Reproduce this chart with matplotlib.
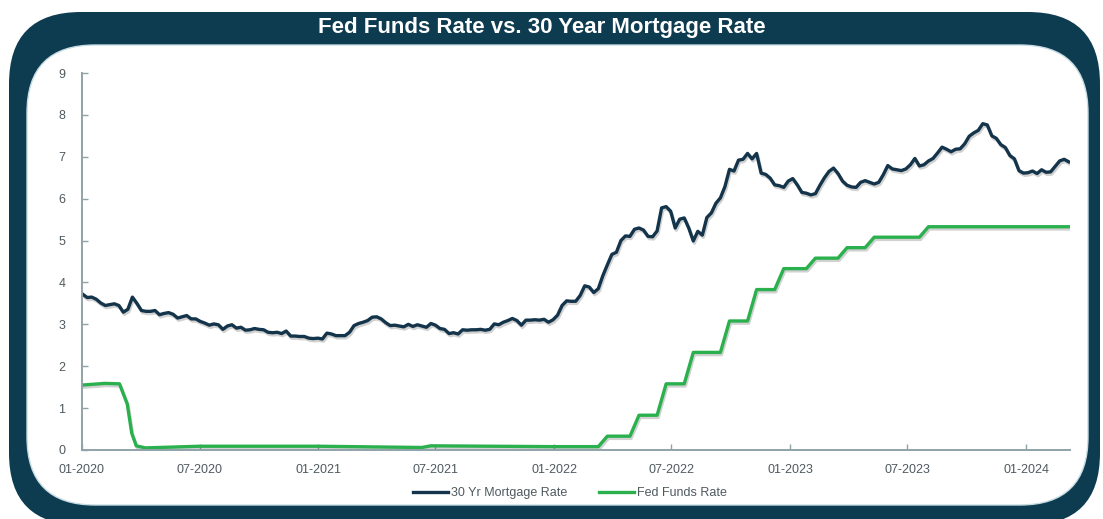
import matplotlib
matplotlib.use("Agg")
import matplotlib.pyplot as plt
import matplotlib.dates as mdates
import matplotlib.patheffects as pe
from matplotlib.patches import FancyBboxPatch
from matplotlib.transforms import IdentityTransform
import pandas as pd

# 30 year fixed mortgage rate, weekly (Thursdays) from 2020-01-02
mortgage_2020 = [3.72, 3.64, 3.65, 3.60, 3.51, 3.45, 3.47, 3.49, 3.45, 3.29, 3.36, 3.65, 3.50,
                 3.33, 3.31, 3.31, 3.33, 3.23, 3.26, 3.28, 3.24, 3.15, 3.18, 3.21, 3.13, 3.13,
                 3.07, 3.03, 2.98, 3.01, 2.99, 2.88, 2.96, 2.99, 2.91, 2.93, 2.86, 2.87, 2.90,
                 2.88, 2.87, 2.81, 2.80, 2.81, 2.78, 2.84, 2.72, 2.72, 2.71, 2.71, 2.67, 2.66, 2.67]
mortgage_2021 = [2.65, 2.79, 2.77, 2.73, 2.73, 2.73, 2.81, 2.97, 3.02, 3.05, 3.09, 3.17, 3.18,
                 3.13, 3.04, 2.97, 2.98, 2.96, 2.94, 3.00, 2.95, 2.99, 2.96, 2.93, 3.02, 2.98,
                 2.90, 2.88, 2.78, 2.80, 2.77, 2.87, 2.86, 2.87, 2.87, 2.88, 2.86, 2.88, 3.01,
                 2.99, 3.05, 3.09, 3.14, 3.09, 2.98, 3.10, 3.10, 3.11, 3.10, 3.12, 3.05, 3.11]
mortgage_2022 = [3.22, 3.45, 3.56, 3.55, 3.55, 3.69, 3.92, 3.89, 3.76, 3.85, 4.16, 4.42, 4.67,
                 4.72, 5.00, 5.11, 5.10, 5.27, 5.30, 5.25, 5.10, 5.09, 5.23, 5.78, 5.81, 5.70,
                 5.30, 5.51, 5.54, 5.30, 4.99, 5.22, 5.13, 5.55, 5.66, 5.89, 6.02, 6.29, 6.70,
                 6.66, 6.92, 6.94, 7.08, 6.95, 7.08, 6.61, 6.58, 6.49, 6.33, 6.31, 6.27, 6.42]
mortgage_2023 = [6.48, 6.33, 6.15, 6.13, 6.09, 6.12, 6.32, 6.50, 6.65, 6.73, 6.60, 6.42, 6.32,
                 6.28, 6.27, 6.39, 6.43, 6.39, 6.35, 6.39, 6.57, 6.79, 6.71, 6.69, 6.67, 6.71,
                 6.81, 6.96, 6.78, 6.81, 6.90, 6.96, 7.09, 7.23, 7.18, 7.12, 7.18, 7.19, 7.31,
                 7.49, 7.57, 7.63, 7.79, 7.76, 7.50, 7.44, 7.29, 7.22, 7.03, 6.95, 6.67, 6.61]
mortgage_2024 = [6.62, 6.66, 6.60, 6.69, 6.63, 6.64, 6.77, 6.90, 6.94, 6.88]

mortgage = mortgage_2020 + mortgage_2021 + mortgage_2022 + mortgage_2023 + mortgage_2024
mortgage_dates = pd.date_range("2020-01-02", periods=len(mortgage), freq="7D")

# effective fed funds rate, breakpoints of the step line
fed_dates = pd.to_datetime([
    "2020-01-01", "2020-02-05", "2020-02-28", "2020-03-11", "2020-03-18", "2020-03-25",
    "2020-04-08", "2020-07-01", "2020-12-31", "2021-06-10", "2021-06-24", "2021-12-31",
    "2022-03-10", "2022-03-24", "2022-04-28", "2022-05-12", "2022-06-09", "2022-06-23",
    "2022-07-21", "2022-08-04", "2022-09-15", "2022-09-29", "2022-10-27", "2022-11-10",
    "2022-12-08", "2022-12-22", "2023-01-26", "2023-02-09", "2023-03-16", "2023-03-30",
    "2023-04-27", "2023-05-11", "2023-07-20", "2023-08-03", "2024-03-07",
])
fed_funds = [
    1.55, 1.59, 1.58, 1.10, 0.40, 0.10,
    0.05, 0.09, 0.09, 0.06, 0.10, 0.08,
    0.08, 0.33, 0.33, 0.83, 0.83, 1.58,
    1.58, 2.33, 2.33, 3.08, 3.08, 3.83,
    3.83, 4.33, 4.33, 4.58, 4.58, 4.83,
    4.83, 5.08, 5.08, 5.33, 5.33,
]

tick_dates = pd.date_range("2020-01-01", "2024-01-01", freq="6MS")
y_ticks = list(range(0, 10))

navy = "#0d3b4f"
mortgage_color = "#13344a"
fed_color = "#2bb04e"
axis_color = "#8fa3a8"
label_color = "#4f5a5f"

W, H = 1103, 519
fig = plt.figure(figsize=(W / 100, H / 100), dpi=100)
fig.patch.set_facecolor("white")

# dark rounded frame with a white panel inside (pixel coordinates)
outer = FancyBboxPatch((9, -6), 1091, 513, boxstyle="round,pad=0,rounding_size=72",
                       facecolor=navy, edgecolor="none", transform=IdentityTransform(), zorder=-3)
inner = FancyBboxPatch((27, 14), 1061, 460, boxstyle="round,pad=0,rounding_size=68",
                       facecolor="white", edgecolor="#c6dce3", linewidth=1.0,
                       transform=IdentityTransform(), zorder=-2)
fig.add_artist(outer)
fig.add_artist(inner)

fig.text(542 / W, 1 - 28 / H, "Fed Funds Rate vs. 30 Year Mortgage Rate",
         ha="center", va="center", color="white", fontsize=16, fontweight="bold",
         family="Liberation Sans")

ax = fig.add_axes([82 / W, 1 - 450 / H, (1070 - 82) / W, (450 - 73) / H])
ax.set_facecolor("none")

shadow = [pe.SimpleLineShadow(offset=(0.8, -1.6), shadow_color="#000000", alpha=0.18), pe.Normal()]
ax.plot(mortgage_dates, mortgage, color=mortgage_color, lw=2.4, label="30 Yr Mortgage Rate",
        solid_joinstyle="round", path_effects=shadow)
ax.plot(fed_dates, fed_funds, color=fed_color, lw=2.4, label="Fed Funds Rate",
        solid_joinstyle="round", path_effects=shadow)

ax.set_xlim(pd.Timestamp("2020-01-01"), pd.Timestamp("2024-03-09"))
ax.set_ylim(0, 9)
ax.set_xticks(tick_dates)
ax.xaxis.set_major_formatter(mdates.DateFormatter("%m-%Y"))
ax.set_yticks(y_ticks)

for side in ["top", "right"]:
    ax.spines[side].set_visible(False)
for side in ["left", "bottom"]:
    ax.spines[side].set_color(axis_color)
    ax.spines[side].set_linewidth(1.4)

ax.tick_params(axis="both", direction="in", length=4, width=1, color=axis_color,
               labelcolor=label_color, labelsize=9)
ax.tick_params(axis="x", pad=10)
ax.tick_params(axis="y", pad=12)
for lbl in ax.get_xticklabels() + ax.get_yticklabels():
    lbl.set_family("Liberation Sans")

leg = ax.legend(loc="center", bbox_to_anchor=(570 / W, 1 - 493 / H), bbox_transform=fig.transFigure,
                ncol=2, frameon=False, handlelength=2.8, handletextpad=0.2, columnspacing=2.6,
                prop={"family": "Liberation Sans", "size": 9})
for txt in leg.get_texts():
    txt.set_color(label_color)
for line in leg.get_lines():
    line.set_path_effects([])
    line.set_linewidth(2.4)

fig.savefig("out.png", dpi=100)
